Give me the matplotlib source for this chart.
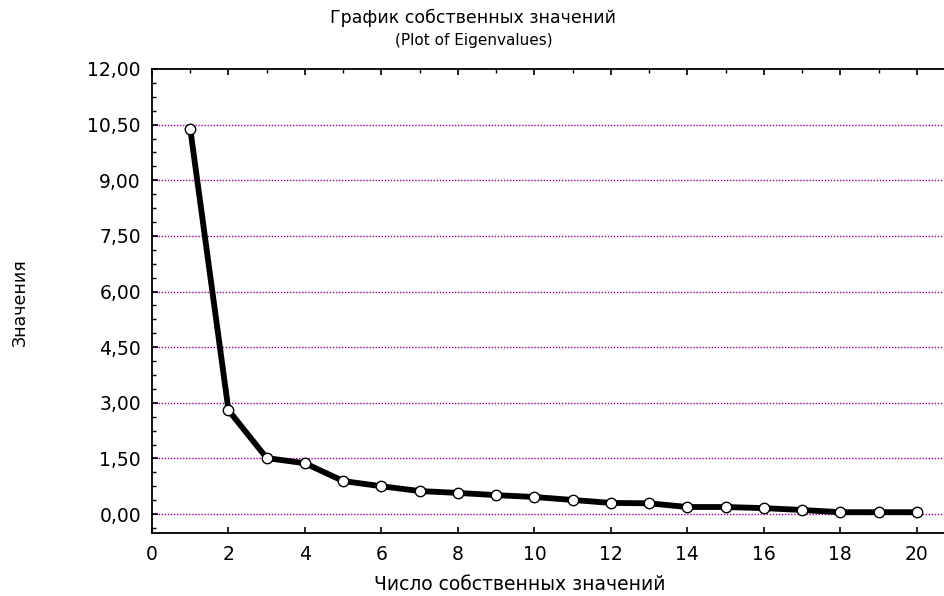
import numpy as np
import matplotlib.pyplot as plt
from matplotlib.ticker import MultipleLocator

# данные: собственные значения
n_eig = [1, 2, 3, 4, 5, 6, 7, 8, 9, 10, 11, 12, 13, 14, 15, 16, 17, 18, 19, 20]
eigenvalues = [10.39, 2.80, 1.51, 1.37, 0.89, 0.75, 0.62, 0.57, 0.51, 0.46,
               0.38, 0.30, 0.29, 0.19, 0.19, 0.16, 0.11, 0.05, 0.05, 0.05]

y_ticks = [0.0, 1.5, 3.0, 4.5, 6.0, 7.5, 9.0, 10.5, 12.0]
y_tick_labels = ['0,00', '1,50', '3,00', '4,50', '6,00', '7,50', '9,00', '10,50', '12,00']
x_ticks = [0, 2, 4, 6, 8, 10, 12, 14, 16, 18, 20]

title = 'График собственных значений'
subtitle = '(Plot of Eigenvalues)'
x_label = 'Число собственных значений'
y_label = 'Значения'

plt.rcParams['font.family'] = ['DejaVu Sans']

fig = plt.figure(figsize=(9.45, 5.96), dpi=100)
# оси немного выходят за правый край, как на исходной картинке
ax = fig.add_axes([152 / 945, 1 - 532.6 / 596, 803 / 945, 463.6 / 596])

# сетка по основным делениям y
for yv in y_ticks[:-1]:
    ax.axhline(yv, color='#9a009a', linestyle=(0, (1, 1.2)), linewidth=1.0, zorder=1)

ax.plot(n_eig, eigenvalues, color='black', linewidth=4.2, marker='o',
        markersize=7.5, markerfacecolor='white', markeredgecolor='black',
        markeredgewidth=1.0, zorder=3)

ax.set_xlim(0, 21)
ax.set_ylim(-0.5, 12)

ax.set_xticks(x_ticks)
ax.set_xticklabels([str(v) for v in x_ticks])
ax.set_yticks(y_ticks)
ax.set_yticklabels(y_tick_labels)
ax.yaxis.set_minor_locator(MultipleLocator(0.375))
ax.xaxis.set_minor_locator(MultipleLocator(1))

ax.tick_params(axis='both', which='major', direction='in', length=4, width=1.2,
               labelsize=13.5, colors='black')
ax.tick_params(axis='y', which='major', pad=8)
ax.tick_params(axis='x', which='major', pad=9)
ax.tick_params(axis='both', which='minor', direction='in', length=3, width=1.0)
ax.tick_params(axis='x', which='both', top=True)
ax.tick_params(axis='x', which='minor', bottom=False)

for sp in ax.spines.values():
    sp.set_linewidth(1.3)
ax.spines['right'].set_visible(False)

fig.text(473 / 945, 1 - 18 / 596, title, ha='center', va='center', fontsize=12.5)
fig.text(474 / 945, 1 - 41 / 596, subtitle, ha='center', va='center', fontsize=11)
fig.text(520 / 945, 1 - 584 / 596, x_label, ha='center', va='center', fontsize=13.5)
fig.text(20 / 945, 1 - 302 / 596, y_label, ha='center', va='center', fontsize=12.5,
         rotation=90)

fig.savefig('out.png', dpi=100)
